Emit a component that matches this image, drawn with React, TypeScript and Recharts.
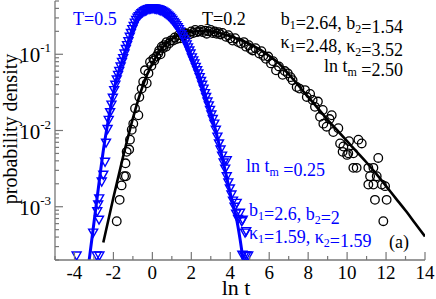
import React from 'react';
import { ComposedChart, XAxis, YAxis, Line, Scatter } from 'recharts';

// values, stored as log10(probability density)
const t05Fit: [number, number][] = [
  [-3.3, -3.81], [-3.1, -3.41], [-2.9, -3.01], [-2.7, -2.61], [-2.5, -2.23], [-2.3, -1.92],
  [-2.1, -1.64], [-1.9, -1.38], [-1.7, -1.2], [-1.5, -1.04], [-1.3, -0.88], [-1.1, -0.72],
  [-0.9, -0.58], [-0.7, -0.5], [-0.5, -0.45], [-0.3, -0.42], [-0.1, -0.4], [0.1, -0.4],
  [0.3, -0.41], [0.5, -0.43], [0.7, -0.47], [0.9, -0.52], [1.1, -0.58], [1.3, -0.65],
  [1.5, -0.74], [1.7, -0.84], [1.9, -0.96], [2.1, -1.09], [2.3, -1.21], [2.5, -1.35],
  [2.7, -1.52], [2.9, -1.68], [3.1, -1.85], [3.3, -2.05], [3.5, -2.26], [3.7, -2.48],
  [3.9, -2.71], [4.1, -2.93], [4.3, -3.13], [4.5, -3.42], [4.7, -3.78],
];

const t05Points: [number, number][] = [
  [-3.89, -3.64], [-3.04, -3.34], [-2.86, -3.64], [-2.72, -3.64], [-2.83, -3.06], [-2.74, -3.17],
  [-2.78, -2.97], [-2.73, -2.89], [-2.6, -2.67], [-2.52, -2.58], [-2.43, -2.41], [-2.38, -2.16],
  [-2.3, -1.98], [-2.24, -1.86], [-2.17, -1.76], [-2.1, -1.66], [-2.03, -1.57], [-1.96, -1.47],
  [-1.9, -1.4], [-1.83, -1.33], [-1.76, -1.27], [-1.7, -1.22], [-1.63, -1.16], [-1.56, -1.1],
  [-1.5, -1.05], [-1.43, -0.99], [-1.36, -0.93], [-1.3, -0.88], [-1.23, -0.83], [-1.16, -0.77],
  [-1.1, -0.72], [-1.03, -0.67], [-0.96, -0.63], [-0.9, -0.585], [-0.83, -0.55], [-0.76, -0.52],
  [-0.7, -0.5], [-0.63, -0.48], [-0.56, -0.46], [-0.5, -0.45], [-0.43, -0.435], [-0.36, -0.425],
  [-0.3, -0.42], [-0.23, -0.41], [-0.16, -0.405], [-0.1, -0.4], [-0.03, -0.398], [0.03, -0.398],
  [0.1, -0.4], [0.16, -0.402], [0.23, -0.406], [0.3, -0.41], [0.36, -0.416], [0.43, -0.423],
  [0.5, -0.43], [0.56, -0.44], [0.63, -0.452], [0.7, -0.465], [0.76, -0.48], [0.83, -0.495],
  [0.9, -0.51], [0.96, -0.53], [1.03, -0.55], [1.1, -0.575], [1.16, -0.595], [1.23, -0.62],
  [1.3, -0.645], [1.36, -0.67], [1.43, -0.7], [1.5, -0.735], [1.56, -0.765], [1.63, -0.8],
  [1.7, -0.835], [1.76, -0.87], [1.83, -0.91], [1.9, -0.95], [1.96, -0.99], [2.03, -1.04],
  [2.1, -1.08], [2.16, -1.12], [2.23, -1.165], [2.3, -1.21], [2.36, -1.25], [2.43, -1.3],
  [2.5, -1.35], [2.56, -1.4], [2.63, -1.45], [2.7, -1.51], [2.76, -1.56], [2.83, -1.62],
  [2.9, -1.67], [2.96, -1.73], [3.03, -1.79], [3.1, -1.85], [3.18, -1.91], [3.26, -1.99],
  [3.34, -2.08], [3.42, -2.17], [3.5, -2.25], [3.58, -2.33], [3.66, -2.42], [3.74, -2.5],
  [3.82, -2.39], [3.82, -2.6], [3.9, -2.68], [3.98, -2.76], [4.06, -2.84], [4.14, -2.92],
  [4.22, -3.0], [4.33, -2.95], [4.3, -3.09], [4.4, -3.16], [4.5, -3.08], [4.59, -3.19],
  [4.64, -3.17], [4.76, -3.34], [4.82, -3.32], [4.62, -3.63], [4.72, -3.64], [4.82, -3.64],
  [4.92, -3.64],
];

const t02Fit: [number, number][] = [
  [-2.52, -3.47], [-2.0, -2.88], [-1.5, -2.34], [-1.0, -1.84], [-0.5, -1.42], [0, -1.12],
  [0.5, -0.92], [1.0, -0.8], [1.5, -0.735], [2.0, -0.705], [2.5, -0.695], [3.0, -0.7],
  [3.5, -0.725], [4.0, -0.765], [4.5, -0.81], [5.0, -0.865], [5.5, -0.935], [6.0, -1.02],
  [6.5, -1.12], [7.0, -1.26], [7.5, -1.41], [8.0, -1.56], [8.5, -1.71], [9.0, -1.86],
  [9.5, -2.0], [10, -2.14], [10.5, -2.28], [11, -2.42], [11.5, -2.57], [12, -2.73],
  [12.5, -2.89], [13, -3.05], [13.5, -3.22], [14, -3.39],
];

const t02Points: [number, number][] = [
  [-1.83, -3.19], [-1.68, -2.91], [-1.58, -2.72], [-1.45, -2.6], [-1.36, -2.6], [-1.38, -2.43],
  [-1.32, -2.28], [-1.19, -2.25], [-1.15, -2.12], [-1.06, -1.99], [-0.98, -1.91], [-0.89, -1.71],
  [-0.72, -1.8], [-0.67, -1.56], [-0.55, -1.45], [-0.47, -1.36], [-0.29, -1.38], [-0.38, -1.21],
  [-0.2, -1.25], [-0.12, -1.1], [-0.05, -1.15], [0.05, -1.06], [0.1, -1.08], [0.2, -1.03],
  [0.3, -0.99], [0.35, -0.95], [0.42, -1.0], [0.48, -0.9], [0.55, -0.92], [0.6, -0.88],
  [0.7, -0.9], [0.73, -0.84], [0.85, -0.86], [0.95, -0.82], [1.07, -0.82], [1.15, -0.78],
  [1.25, -0.8], [1.35, -0.75], [1.42, -0.79], [1.55, -0.76], [1.65, -0.72], [1.76, -0.73],
  [1.9, -0.74], [2.0, -0.7], [2.1, -0.72], [2.2, -0.68], [2.28, -0.71], [2.4, -0.7],
  [2.5, -0.68], [2.6, -0.71], [2.7, -0.69], [2.79, -0.73], [2.9, -0.7], [3.0, -0.68],
  [3.1, -0.72], [3.2, -0.7], [3.3, -0.73], [3.4, -0.71], [3.5, -0.74], [3.6, -0.72],
  [3.78, -0.77], [3.9, -0.75], [4.0, -0.79], [4.12, -0.82], [4.25, -0.79], [4.4, -0.84],
  [4.55, -0.86], [4.7, -0.84], [4.81, -0.9], [4.95, -0.88], [5.05, -0.93], [5.15, -0.95],
  [5.3, -0.92], [5.49, -0.99], [5.6, -0.96], [5.7, -1.02], [5.83, -1.06], [5.95, -1.03],
  [6.09, -1.12], [6.2, -1.09], [6.35, -1.21], [6.5, -1.16], [6.69, -1.27], [6.8, -1.22],
  [6.95, -1.25], [7.1, -1.3], [7.2, -1.34], [7.41, -1.43], [7.55, -1.45], [7.84, -1.47],
  [7.93, -1.56], [8.1, -1.52], [8.23, -1.6], [8.35, -1.69], [8.5, -1.62], [8.61, -1.82],
  [8.75, -1.73], [8.78, -1.91], [8.95, -1.95], [9.1, -1.85], [9.21, -1.8], [9.29, -2.02],
  [9.55, -1.97], [9.64, -2.17], [9.81, -2.21], [9.77, -2.28], [10.0, -2.32], [10.06, -2.3],
  [10.1, -2.14], [10.32, -2.3], [10.58, -2.12], [10.75, -2.17], [10.32, -2.49], [10.49, -2.49],
  [11.09, -2.49], [11.35, -2.49], [11.6, -2.36], [11.18, -2.6], [11.52, -2.6], [11.09, -2.71],
  [11.35, -2.71], [11.78, -2.71], [11.95, -2.73], [11.43, -2.91], [12.03, -2.91], [11.86, -3.19],
];

const xTicks = [-5, -4, -3, -2, -1, 0, 1, 2, 3, 4, 5, 6, 7, 8, 9, 10, 11, 12, 13, 14];
const xTickLabels = [-4, -2, 0, 2, 4, 6, 8, 10, 12, 14];
const yDecades = [1e-4, 1e-3, 1e-2, 1e-1];
const yMajor = [1e-3, 1e-2, 1e-1];
const yMin = 2e-4;
const yMax = 0.5;

const yTicks: number[] = [];
yDecades.forEach((d) => {
  for (let m = 1; m < 10; m++) {
    const v = m * d;
    if (v >= yMin * 0.999 && v <= yMax * 1.001) yTicks.push(v);
  }
});

const toRows = (pts: [number, number][]) => pts.map(([x, l]) => ({ x, y: Math.pow(10, l) }));

const AXIS = '#777';
const SERIF = '"Liberation Serif", "DejaVu Serif", serif';
const BLUE = '#0000ff';
const serif = { fontFamily: SERIF };

const isMajor = (v: number) => yMajor.some((m) => Math.abs(v / m - 1) < 1e-6);
const expOf = (v: number) => Math.round(Math.log10(v));

const BottomTick = (props: any) => {
  const { x, y, payload } = props;
  const v = payload.value;
  const major = v % 2 === 0;
  return (
    <g>
      <line x1={x} x2={x} y1={y} y2={y - (major ? 8 : 4)} stroke={AXIS} strokeWidth={1.2} />
      {xTickLabels.includes(v) && (
        <text x={x} y={y + 19} textAnchor="middle" style={serif} fontSize={19} fill="#000">
          {v}
        </text>
      )}
    </g>
  );
};

const TopTick = (props: any) => {
  const { x, y, payload } = props;
  const major = payload.value % 2 === 0;
  return <line x1={x} x2={x} y1={y} y2={y + (major ? 8 : 4)} stroke={AXIS} strokeWidth={1.2} />;
};

const LeftTick = (props: any) => {
  const { x, y, payload } = props;
  const v = payload.value;
  const major = isMajor(v);
  return (
    <g>
      <line x1={x} x2={x + (major ? 8 : 4)} y1={y} y2={y} stroke={AXIS} strokeWidth={1.2} />
      {major && (
        <text x={x - 4} y={y + 8} textAnchor="end" style={serif} fontSize={21} fill="#000">
          10
          <tspan fontSize={13} dy={-10}>
            {String(expOf(v))}
          </tspan>
        </text>
      )}
    </g>
  );
};

const RightTick = (props: any) => {
  const { x, y, payload } = props;
  const major = isMajor(payload.value);
  return <line x1={x} x2={x - (major ? 8 : 4)} y1={y} y2={y} stroke={AXIS} strokeWidth={1.2} />;
};

const Triangle = (props: any) => {
  const { cx, cy } = props;
  if (cx == null || cy == null) return null;
  return (
    <polygon
      points={`${cx - 4.5},${cy - 3.5} ${cx + 4.5},${cy - 3.5} ${cx},${cy + 4.5}`}
      fill="none"
      stroke={BLUE}
      strokeWidth={1.4}
    />
  );
};

const Ring = (props: any) => {
  const { cx, cy } = props;
  if (cx == null || cy == null) return null;
  return <circle cx={cx} cy={cy} r={4.3} fill="none" stroke="#000" strokeWidth={1.3} />;
};

const Sub = ({ children }: { children: React.ReactNode }) => (
  <>
    <tspan fontSize={12} dy={4}>
      {children}
    </tspan>
    <tspan dy={-4}></tspan>
  </>
);

export default function App() {
  return (
    <div style={{ position: 'absolute', left: 0, top: 0, width: 436, height: 299, background: '#fff' }}>
      <ComposedChart width={436} height={299} margin={{ top: 1, right: 11, bottom: 0, left: 0 }}>
        <XAxis
          xAxisId="bottom"
          dataKey="x"
          type="number"
          domain={[-5, 14]}
          allowDataOverflow
          ticks={xTicks}
          interval={0}
          height={39}
          tickSize={0}
          tickMargin={0}
          tickLine={false}
          tick={<BottomTick />}
          axisLine={{ stroke: AXIS, strokeWidth: 1.3 }}
        />
        <XAxis
          xAxisId="top"
          orientation="top"
          dataKey="x"
          type="number"
          domain={[-5, 14]}
          allowDataOverflow
          ticks={xTicks}
          interval={0}
          height={0}
          tickSize={0}
          tickMargin={0}
          tickLine={false}
          tick={<TopTick />}
          axisLine={{ stroke: AXIS, strokeWidth: 1.3 }}
        />
        <YAxis
          yAxisId="left"
          type="number"
          scale="log"
          domain={[yMin, yMax]}
          allowDataOverflow
          ticks={yTicks}
          interval={0}
          width={55}
          tickSize={0}
          tickMargin={0}
          tickLine={false}
          tick={<LeftTick />}
          axisLine={{ stroke: AXIS, strokeWidth: 1.3 }}
        />
        <YAxis
          yAxisId="right"
          orientation="right"
          type="number"
          scale="log"
          domain={[yMin, yMax]}
          allowDataOverflow
          ticks={yTicks}
          interval={0}
          width={0}
          tickSize={0}
          tickMargin={0}
          tickLine={false}
          tick={<RightTick />}
          axisLine={{ stroke: AXIS, strokeWidth: 1.3 }}
        />
        <Scatter
          xAxisId="bottom"
          yAxisId="left"
          data={toRows(t02Points)}
          dataKey="y"
          shape={<Ring />}
          isAnimationActive={false}
        />
        <Line
          xAxisId="bottom"
          yAxisId="left"
          data={toRows(t02Fit)}
          dataKey="y"
          type="monotone"
          stroke="#000"
          strokeWidth={2.6}
          dot={false}
          isAnimationActive={false}
        />
        <Scatter
          xAxisId="bottom"
          yAxisId="left"
          data={toRows(t05Points)}
          dataKey="y"
          shape={<Triangle />}
          isAnimationActive={false}
        />
        <Line
          xAxisId="bottom"
          yAxisId="left"
          data={toRows(t05Fit)}
          dataKey="y"
          type="monotone"
          stroke={BLUE}
          strokeWidth={3}
          dot={false}
          isAnimationActive={false}
        />
      </ComposedChart>
      <svg width={436} height={299} style={{ position: 'absolute', left: 0, top: 0, pointerEvents: 'none' }}>
        <g style={serif} fontSize={18}>
          <text x={73} y={25} fill={BLUE}>T=0.5</text>
          <text x={202} y={25} fill="#000">T=0.2</text>
          <text x={403} y={25} textAnchor="end" fill="#000">
            b<Sub>1</Sub>=2.64, b<Sub>2</Sub>=1.54
          </text>
          <text x={403} y={48} textAnchor="end" fill="#000">
            κ<Sub>1</Sub>=2.48, κ<Sub>2</Sub>=3.52
          </text>
          <text x={403} y={72} textAnchor="end" fill="#000">
            ln t<Sub>m</Sub> =2.50
          </text>
          <text x={246} y={172} fill={BLUE}>
            ln t<Sub>m</Sub> =0.25
          </text>
          <text x={249} y={216} fill={BLUE}>
            b<Sub>1</Sub>=2.6, b<Sub>2</Sub>=2
          </text>
          <text x={249} y={239} fill={BLUE}>
            κ<Sub>1</Sub>=1.59, κ<Sub>2</Sub>=1.59
          </text>
          <text x={389} y={248} fill="#000">(a)</text>
        </g>
        <text x={236} y={295} textAnchor="middle" style={serif} fontSize={22} fill="#000">
          ln t
        </text>
        <text
          x={17}
          y={129}
          transform="rotate(-90 17 129)"
          textAnchor="middle"
          style={serif}
          fontSize={20}
          fill="#000"
        >
          probability density
        </text>
      </svg>
    </div>
  );
}
